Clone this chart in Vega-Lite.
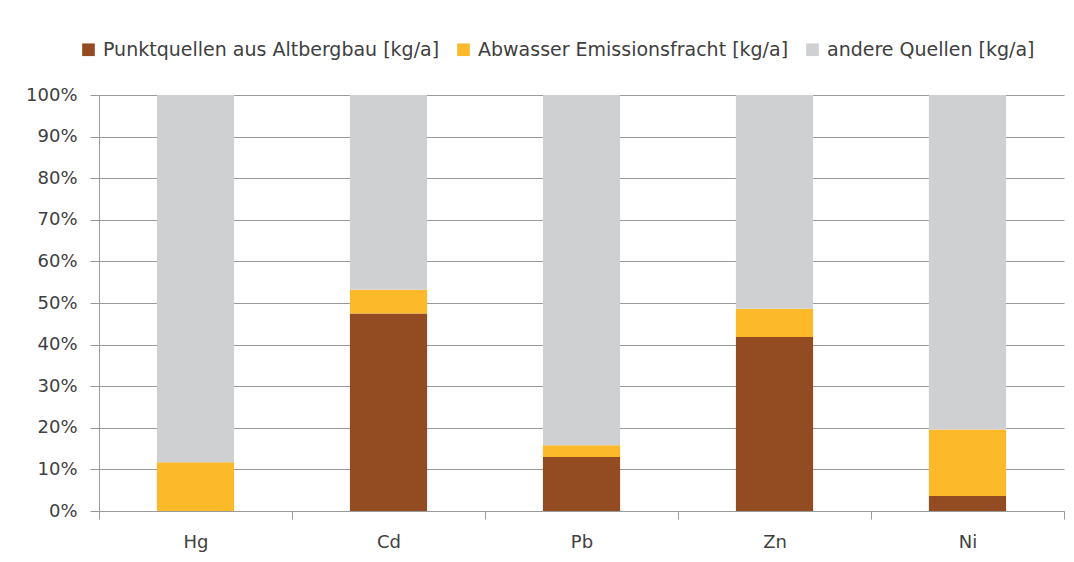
{
  "$schema": "https://vega.github.io/schema/vega-lite/v6.json",
  "width": 965,
  "height": 416,
  "autosize": {"type": "none"},
  "padding": {"left": 99, "top": 95, "right": 10, "bottom": 51},
  "background": "white",
  "config": {
    "view": {"stroke": null},
    "font": "DejaVu Sans"
  },
  "data": {
    "values": [
      {"element": "Hg", "quelle": "Punktquellen aus Altbergbau [kg/a]", "idx": 1, "anteil": 0},
      {"element": "Hg", "quelle": "Abwasser Emissionsfracht [kg/a]", "idx": 2, "anteil": 11.7},
      {"element": "Hg", "quelle": "andere Quellen [kg/a]", "idx": 3, "anteil": 88.3},
      {"element": "Cd", "quelle": "Punktquellen aus Altbergbau [kg/a]", "idx": 1, "anteil": 47.5},
      {"element": "Cd", "quelle": "Abwasser Emissionsfracht [kg/a]", "idx": 2, "anteil": 5.7},
      {"element": "Cd", "quelle": "andere Quellen [kg/a]", "idx": 3, "anteil": 46.8},
      {"element": "Pb", "quelle": "Punktquellen aus Altbergbau [kg/a]", "idx": 1, "anteil": 13.0},
      {"element": "Pb", "quelle": "Abwasser Emissionsfracht [kg/a]", "idx": 2, "anteil": 2.8},
      {"element": "Pb", "quelle": "andere Quellen [kg/a]", "idx": 3, "anteil": 84.2},
      {"element": "Zn", "quelle": "Punktquellen aus Altbergbau [kg/a]", "idx": 1, "anteil": 41.8},
      {"element": "Zn", "quelle": "Abwasser Emissionsfracht [kg/a]", "idx": 2, "anteil": 6.8},
      {"element": "Zn", "quelle": "andere Quellen [kg/a]", "idx": 3, "anteil": 51.4},
      {"element": "Ni", "quelle": "Punktquellen aus Altbergbau [kg/a]", "idx": 1, "anteil": 3.6},
      {"element": "Ni", "quelle": "Abwasser Emissionsfracht [kg/a]", "idx": 2, "anteil": 16.0},
      {"element": "Ni", "quelle": "andere Quellen [kg/a]", "idx": 3, "anteil": 80.4}
    ]
  },
  "mark": {"type": "bar", "width": {"band": 0.4}},
  "encoding": {
    "x": {
      "field": "element",
      "type": "nominal",
      "sort": ["Hg", "Cd", "Pb", "Zn", "Ni"],
      "scale": {"paddingInner": 0, "paddingOuter": 0},
      "axis": {
        "title": null,
        "labelAngle": 0,
        "labelFontSize": 18,
        "labelColor": "#404040",
        "labelPadding": 14,
        "tickBand": "extent",
        "tickSize": 8,
        "tickColor": "#9a9a9a",
        "domainColor": "#9a9a9a",
        "grid": false
      }
    },
    "y": {
      "field": "anteil",
      "type": "quantitative",
      "stack": "normalize",
      "scale": {"domain": [0, 1]},
      "axis": {
        "title": null,
        "format": ".0%",
        "values": [0, 0.1, 0.2, 0.3, 0.4, 0.5, 0.6, 0.7, 0.8, 0.9, 1],
        "labelFontSize": 18,
        "labelColor": "#404040",
        "labelPadding": 13,
        "tickSize": 9,
        "tickColor": "#9a9a9a",
        "domainColor": "#9a9a9a",
        "gridColor": "#9a9a9a",
        "gridWidth": 1
      }
    },
    "color": {
      "field": "quelle",
      "type": "nominal",
      "scale": {
        "domain": ["Punktquellen aus Altbergbau [kg/a]", "Abwasser Emissionsfracht [kg/a]", "andere Quellen [kg/a]"],
        "range": ["#934B21", "#FCBA2B", "#CFD0D2"]
      },
      "legend": {
        "title": null,
        "orient": "none",
        "direction": "horizontal",
        "legendX": -20,
        "legendY": -55,
        "symbolType": "square",
        "symbolSize": 160,
        "symbolStrokeWidth": 0,
        "labelFontSize": 19,
        "labelLimit": 0,
        "labelColor": "#404040",
        "labelOffset": 5,
        "columnPadding": 14
      }
    },
    "order": {"field": "idx", "type": "quantitative"}
  }
}
